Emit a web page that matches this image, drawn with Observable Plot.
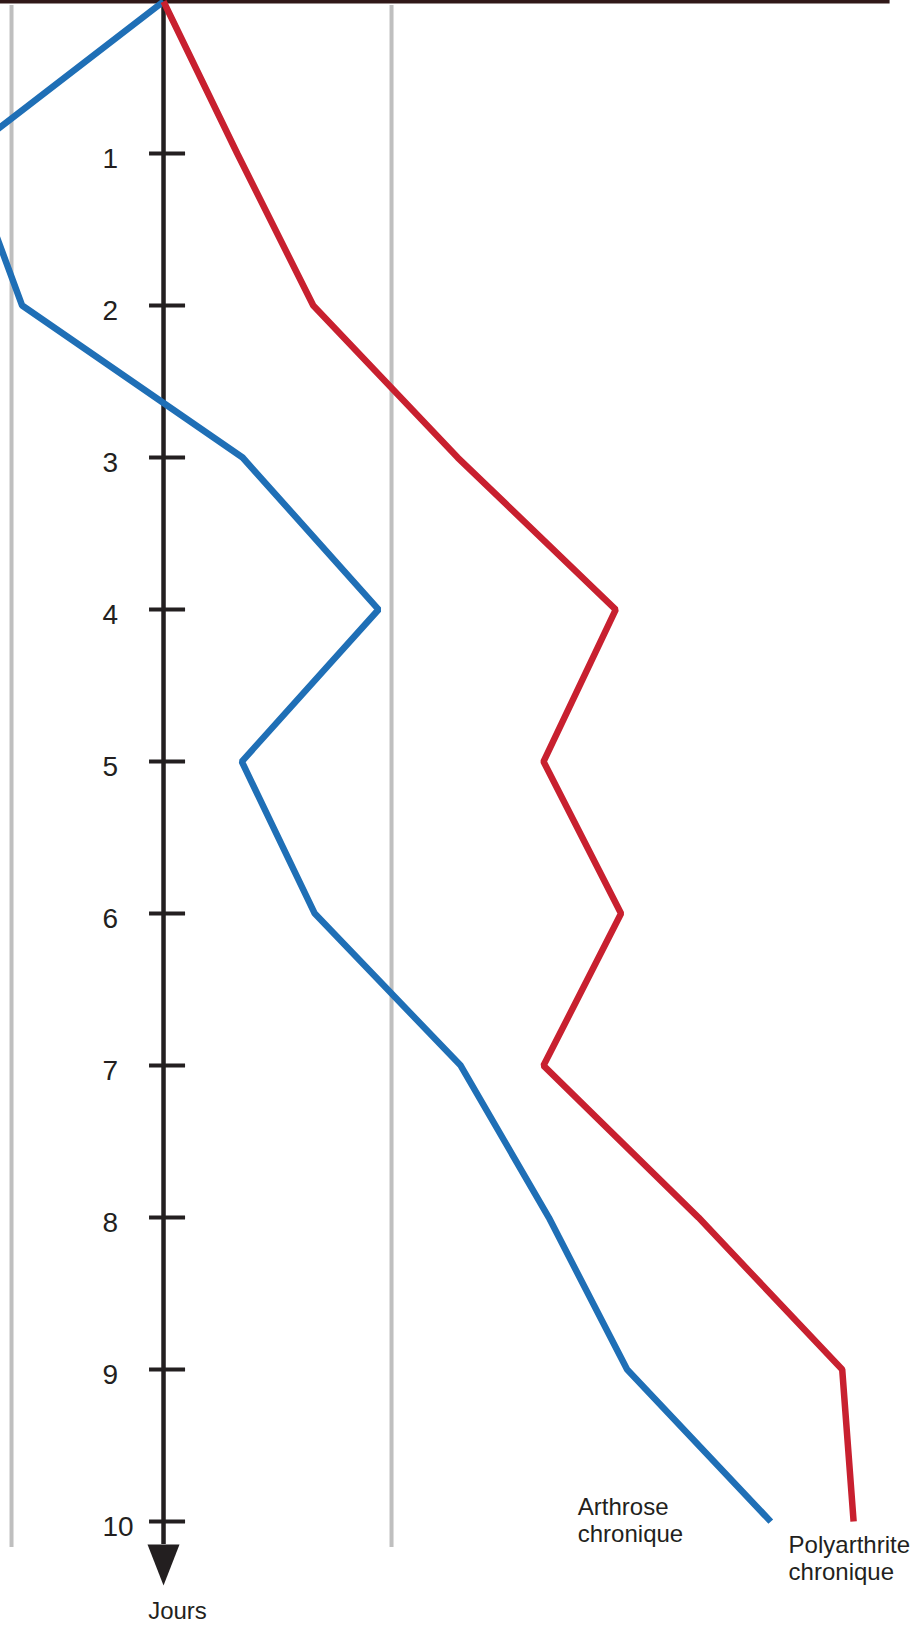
<!DOCTYPE html>
<html><head><meta charset="utf-8">
<script src="https://cdn.jsdelivr.net/npm/d3@7"></script>
<script src="https://cdn.jsdelivr.net/npm/@observablehq/plot@0.6"></script>
<style>html,body{margin:0;padding:0;background:#fff;} svg{display:block}</style>
</head><body><div id="chart"></div>
<script>
// ---- data (x in arbitrary units, axis at 0; y in days) ----
const days = [0, 1, 2, 3, 4, 5, 6, 7, 8, 9, 10];
const arthrose = [0, -2.6, -1.86, 1.04, 2.83, 1.03, 1.99, 3.91, 5.07, 6.1, 7.99];
const polyarthrite = [0, 0.97, 1.97, 3.87, 5.95, 5.0, 6.02, 5.0, 7.04, 8.93, 9.08];
const tickDays = [1, 2, 3, 4, 5, 6, 7, 8, 9, 10];
const referenceLevels = [-2, 3];
const seriesLabels = ["Arthrose\nchronique", "Polyarthrite\nchronique"];
const axisTitle = "Jours";

const arthroseRows = days.map((d, i) => ({day: d, value: arthrose[i]}));
const polyRows = days.map((d, i) => ({day: d, value: polyarthrite[i]}));
const last = days.length - 1;

const ink = "#231f20";
const blue = "#1f6fb6";
const red = "#c8202f";
const font = "'Liberation Sans', Arial, Helvetica, sans-serif";
const arrowDay = 10.15;

const downTriangle = {
  draw(ctx) { ctx.moveTo(-16, 0); ctx.lineTo(16, 0); ctx.lineTo(0, 41); ctx.closePath(); }
};

const chart = Plot.plot({
  width: 913,
  height: 1626,
  margin: 0,
  x: {domain: [-2.145, 9.868], axis: null},
  y: {domain: [-0.0066, 10.69], reverse: true, axis: null},
  style: {fontFamily: font, background: "#fff", color: ink},
  marks: [
    Plot.ruleX(referenceLevels, {y1: 0.026, y2: 10.17, stroke: "#bfbfbf", strokeWidth: 4}),
    Plot.ruleY([0], {x1: -2.145, x2: 9.56, stroke: "#301818", strokeWidth: 4}),
    Plot.ruleX([0], {y1: 0, y2: arrowDay, stroke: ink, strokeWidth: 4.5}),
    Plot.ruleY(tickDays, {x1: -0.184, x2: 0.29, stroke: ink, strokeWidth: 4}),
    Plot.dot([arrowDay], {x: 0, y: d => d, symbol: downTriangle, fill: ink, stroke: "none"}),
    Plot.text(tickDays, {x: 0, y: d => d, text: d => String(d), dx: -61, dy: 14,
      textAnchor: "start", lineAnchor: "bottom", fontSize: 28, fill: ink}),
    Plot.text([axisTitle], {x: 0, y: arrowDay, text: d => d, dx: 14, dy: 75,
      textAnchor: "middle", lineAnchor: "bottom", fontSize: 24, fill: ink}),
    Plot.line(arthroseRows, {x: "value", y: "day", stroke: blue, strokeWidth: 6.5,
      strokeLinejoin: "miter", strokeLinecap: "butt", curve: "linear"}),
    Plot.line(polyRows, {x: "value", y: "day", stroke: red, strokeWidth: 6.5,
      strokeLinejoin: "miter", strokeLinecap: "butt", curve: "linear"}),
    Plot.text([arthroseRows[last]], {x: "value", y: "day", text: () => seriesLabels[0],
      dx: -193, dy: 20, textAnchor: "start", lineAnchor: "bottom", lineHeight: 1.125,
      fontSize: 24, fill: ink}),
    Plot.text([polyRows[last]], {x: "value", y: "day", text: () => seriesLabels[1],
      dx: -65, dy: 58, textAnchor: "start", lineAnchor: "bottom", lineHeight: 1.1,
      fontSize: 24, fill: ink})
  ]
});
document.getElementById("chart").appendChild(chart);
</script>
</body></html>
